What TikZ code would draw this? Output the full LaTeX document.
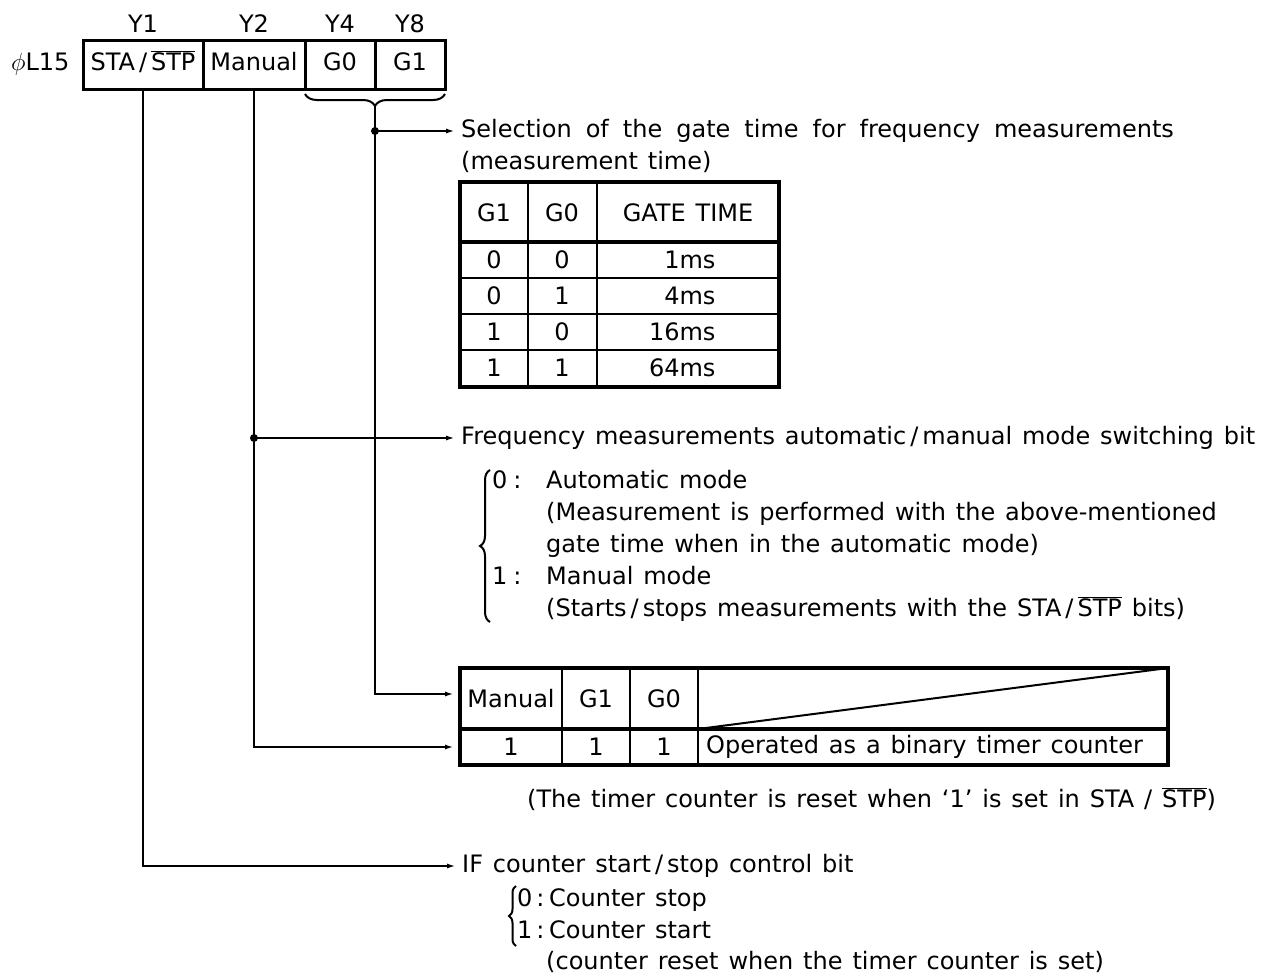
\documentclass[tikz,border=0pt]{standalone}
\usepackage{fontspec}
\setmainfont[WordSpace=1.3]{DejaVu Sans}
\usetikzlibrary{arrows.meta, positioning, decorations.pathreplacing}
\newcommand{\stpbar}{$\overline{\mbox{STP}}$}

\begin{document}
\begin{tikzpicture}[x=1pt, y=-1pt, >={Latex[length=9pt,width=5pt]},
    font=\fontsize{24}{28}\selectfont,
    txt/.style={anchor=west, inner sep=0pt, text height=17pt, text depth=5pt},
    regcell/.style={draw, line width=3pt, outer sep=0pt, minimum height=49pt,
      inner sep=0pt, text height=17pt, text depth=5pt},
    conn/.style={line width=2pt},
    tbl/.style={line width=3.5pt},
    grid/.style={line width=2pt}]
  \useasboundingbox (0,0) rectangle (1278,978);

  % register phi L15
  \node[regcell, minimum width=120pt] (sta) at (143,64.5) {STA\,/\,\stpbar};
  \node[regcell, minimum width=102pt, right=0pt of sta] (man) {Manual};
  \node[regcell, minimum width=70pt, right=0pt of man] (gzero) {G0};
  \node[regcell, minimum width=70pt, right=0pt of gzero] (gone) {G1};
  \node[left=10pt of sta] (reg) {$\phi$L15};
  \node[above=4pt of sta] (yone) {Y1};
  \node[above=4pt of man] (ytwo) {Y2};
  \node[above=4pt of gzero] (yfour) {Y4};
  \node[above=4pt of gone] (yeight) {Y8};
  \draw[conn, decorate, decoration={brace, amplitude=12pt}]
    ([yshift=-5pt]gone.south east) -- ([yshift=-5pt]gzero.south west);
  \coordinate (gtip) at ([yshift=-17pt]gzero.south east);

  % gate time
  \node[txt] (selTxt) at (461,131) {\spaceskip=14pt Selection of the gate time for frequency measurements};
  \node[txt] (measTxt) at (461,163) {(measurement time)};
  \draw[tbl] (460,182) rectangle (779,387);
  \draw[tbl] (460,242) -- (779,242);
  \draw[grid] (528,182) -- (528,387) (597,182) -- (597,387);
  \foreach \y in {278,314,350}
    \draw[grid] (460,\y) -- (779,\y);
  \node (hgone) at (494,213) {G1};
  \node (hgzero) at (562,213) {G0};
  \node (hgate) at (688,213) {GATE TIME};
  \foreach \a/\b/\t [count=\i] in {0/0/1ms,0/1/4ms,1/0/16ms,1/1/64ms}{
    \node (ra\i) at (494,224+36*\i) {\a};
    \node (rb\i) at (562,224+36*\i) {\b};
    \node[anchor=east] (rt\i) at (719,224+36*\i) {\t};
  }

  % automatic / manual
  \node[txt] (freqTxt) at (461,438) {Frequency measurements automatic\,/\,manual mode switching bit};
  \draw[conn, decorate, decoration={brace, amplitude=10pt}] (490,622) -- (490,470);
  \node[txt] (mzero) at (492,482) {0\hspace{6pt}:};
  \node[txt] (autoTxt) at (546,482) {Automatic mode};
  \node[txt] (autoNote) at (546,514) {(Measurement is performed with the above-mentioned};
  \node[txt] (autoNoteb) at (546,546) {gate time when in the automatic mode)};
  \node[txt] (mone) at (492,578) {1\hspace{6pt}:};
  \node[txt] (manTxt) at (546,578) {Manual mode};
  \node[txt] (manNote) at (546,610) {(Starts\,/\,stops measurements with the STA\,/\,\stpbar{} bits)};

  % timer counter
  \draw[tbl] (460,668) rectangle (1168,765);
  \draw[tbl] (460,729) -- (1168,729);
  \draw[grid] (562,668) -- (562,765) (630,668) -- (630,765) (698,668) -- (698,765);
  \draw[grid] (698,729) -- (1168,668);
  \node (cman) at (511,698.5) {Manual};
  \node (cgone) at (596,698.5) {G1};
  \node (cgzero) at (664,698.5) {G0};
  \node (vman) at (511,747) {1};
  \node (vgone) at (596,747) {1};
  \node (vgzero) at (664,747) {1};
  \node[txt] (opTxt) at (706,747) {Operated as a binary timer counter};
  \coordinate (tbltop) at (460,694);
  \coordinate (tblbot) at (460,747);
  \node[txt] (resetTxt) at (527,801) {(The timer counter is reset when `1' is set in STA / \stpbar)};

  % start / stop
  \node[txt] (ifTxt) at (462,866) {IF counter start\,/\,stop control bit};
  \draw[conn, decorate, decoration={brace, amplitude=7pt}] (516,946) -- (516,886);
  \node[txt] (czero) at (517,900) {0\,:};
  \node[txt] (cstop) at (549,900) {Counter stop};
  \node[txt] (cone) at (517,932) {1\,:};
  \node[txt] (cstart) at (549,932) {Counter start};
  \node[txt] (cnote) at (546,963) {(counter reset when the timer counter is set)};

  % connectors
  \draw[conn,->] (gtip) |- ([xshift=-6pt]tbltop);
  \fill (gtip |- selTxt.west) circle (4pt);
  \draw[conn,->] (gtip |- selTxt.west) -- ([xshift=-6pt]selTxt.west);
  \draw[conn,->] (man.south) |- ([xshift=-6pt]tblbot);
  \fill (man.south |- freqTxt.west) circle (4pt);
  \draw[conn,->] (man.south |- freqTxt.west) -- ([xshift=-6pt]freqTxt.west);
  \draw[conn,->] (sta.south) |- ([xshift=-6pt]ifTxt.west);
\end{tikzpicture}
\end{document}
